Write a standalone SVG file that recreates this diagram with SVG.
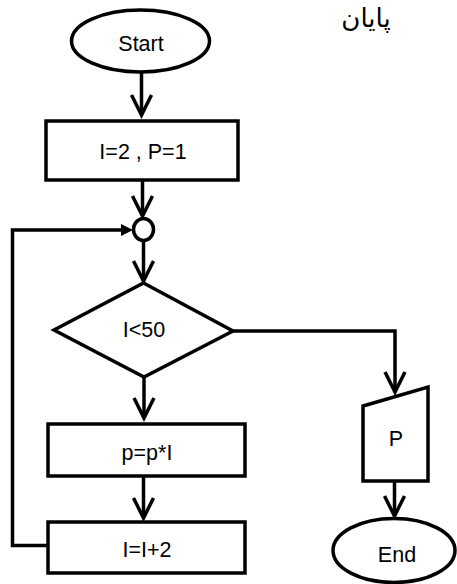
<svg xmlns="http://www.w3.org/2000/svg" width="457" height="584" viewBox="0 0 457 584">
<defs>
<marker id="chev" markerUnits="userSpaceOnUse" markerWidth="24" markerHeight="24" viewBox="-22 -12 24 24" refX="0" refY="0" orient="auto" overflow="visible">
<path d="M -20 -10 L 0 0 L -20 10" fill="none" stroke="#000" stroke-width="3.5" stroke-linejoin="miter"/>
</marker>
</defs>
<style>
.s{fill:#fff;stroke:#000;stroke-width:3.5}
.c{fill:none;stroke:#000;stroke-width:3.5}
.t{font-family:"Liberation Sans",Arial,sans-serif;font-size:21.5px;fill:#000;text-anchor:middle}
</style>
<rect width="457" height="584" fill="#fff"/>
<text x="366" y="27" style="font-family:'DejaVu Sans',sans-serif;font-size:26px;text-anchor:middle" direction="rtl">پایان</text>
<g id="connectors">
<line class="c" x1="141.5" y1="72" x2="141.5" y2="115" marker-end="url(#chev)"/>
<line class="c" x1="142.5" y1="173" x2="142.5" y2="216" marker-end="url(#chev)"/>
<line class="c" x1="143.5" y1="241" x2="143.5" y2="281" marker-end="url(#chev)"/>
<line class="c" x1="144" y1="377" x2="144" y2="418" marker-end="url(#chev)"/>
<line class="c" x1="143.5" y1="476" x2="143.5" y2="518" marker-end="url(#chev)"/>
<polyline class="c" points="48,545.5 12.5,545.5 12.5,230 122,230"/>
<polygon points="121,224 133,230 121,236" fill="#000"/>
<polyline class="c" points="233,331 395,331 395,392" marker-end="url(#chev)"/>
<line class="c" x1="394.5" y1="477" x2="394.5" y2="516" marker-end="url(#chev)"/>
</g>
<g id="start">
<ellipse class="s" cx="140.5" cy="41" rx="69" ry="31"/>
<text class="t" x="141" y="51">Start</text>
</g>
<g id="init">
<rect class="s" x="46" y="121" width="192" height="59"/>
<text class="t" x="143" y="159">I=2 , P=1</text>
</g>
<g id="junction">
<ellipse class="s" cx="143.5" cy="229.5" rx="10" ry="11"/>
</g>
<g id="cond">
<polygon class="s" points="143.5,283 233,331 144,377 54,330"/>
<text class="t" x="144" y="337">I&lt;50</text>
</g>
<g id="mult">
<rect class="s" x="48" y="424" width="197" height="52"/>
<text class="t" x="147" y="460">p=p*I</text>
</g>
<g id="inc">
<rect class="s" x="48" y="522" width="197" height="51"/>
<text class="t" x="147" y="557">I=I+2</text>
</g>
<g id="output">
<polygon class="s" points="363,406 428,387 428,481 363,481"/>
<text class="t" x="396" y="446">P</text>
</g>
<g id="end">
<ellipse class="s" cx="394" cy="550.5" rx="61" ry="32"/>
<text class="t" x="397" y="562">End</text>
</g>
</svg>
